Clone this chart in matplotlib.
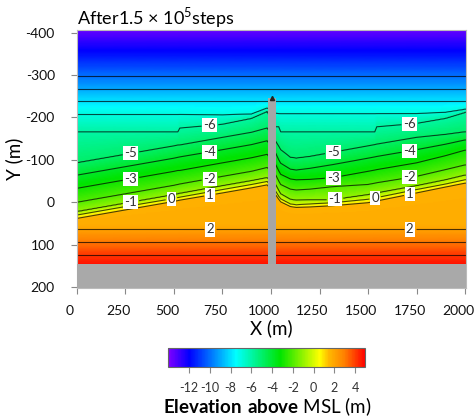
import numpy as np
import matplotlib
matplotlib.use("Agg")
import matplotlib.pyplot as plt
from matplotlib.colors import LinearSegmentedColormap
from matplotlib.transforms import ScaledTranslation

plt.rcParams['font.family'] = ['Lato', 'DejaVu Sans']
plt.rcParams['axes.unicode_minus'] = False
plt.rcParams['mathtext.fontset'] = 'custom'
plt.rcParams['mathtext.rm'] = 'Lato'
plt.rcParams['mathtext.bf'] = 'Lato:bold'

x_stations = [0, 250, 500, 520, 530, 750, 900, 980, 1025, 1040, 1050,
              1100, 1130, 1200, 1320, 1500, 1535, 1545, 1750, 1900, 2000]

# straight (shore-parallel) contours: elevation and cross-shore position
flat_levels = [-13.8, -10, -9, -8, 1.8, 2, 3, 4, 4.8]
flat_y = [-410, -298, -267, -238, 54, 64, 93, 123, 150]

# curved contours, cross-shore position at every station
y_m7 = [-207, -207, -207, -207, -207, -206, -208, -222, -210, -209, -209,
        -209, -209, -209, -209, -209, -209, -209, -209, -212, -219]
y_m6 = [-166, -166, -166, -166, -175, -184, -198, -214, -178, -178, -166,
        -166, -166, -166, -166, -166, -166, -178, -186, -198, -212]
y_m5 = [-93, -113, -133, -135, -135, -153, -165, -175, -143, -132, -124,
        -106, -104, -108, -118, -133, -136, -137, -153, -160, -166]
y_m4 = [-64, -84, -104, -106, -107, -124, -136, -145, -115, -100, -92,
        -78, -76, -80, -89, -104, -107, -108, -124, -137, -147]
y_m3 = [-33, -53, -73, -75, -75, -93, -105, -113, -88, -74, -66,
        -55, -53, -54, -58, -73, -76, -77, -93, -110, -123]
y_m2 = [0, -20, -40, -42, -43, -61, -73, -82, -64, -50, -42,
        -31, -29, -31, -37, -42, -45, -46, -61, -77, -88]
y_m1 = [22, 2, -18, -20, -21, -39, -51, -58, -41, -28, -20,
        -7, -5, -6, -6, -18, -21, -22, -39, -53, -64]
y_0 = [30, 10, -9, -11, -12, -30, -42, -49, -25, -14, -8,
       4, 6, 4, 1, -7, -10, -11, -30, -43, -53]
y_p1 = [38, 18, -2, -4, -5, -22, -34, -41, -17, -7, -1,
        10, 12, 11, 8, 1, -2, -3, -22, -36, -45]
y_berm = [43, 23, 3, 1, 0, -17, -29, -36, -12, -2, 4,
          15, 17, 16, 13, 6, 3, 2, -17, -31, -40]
curved_levels = [-7, -6, -5, -4, -3, -2, -1, 0, 1, 1.7]
curved_y = [y_m7, y_m6, y_m5, y_m4, y_m3, y_m2, y_m1, y_0, y_p1, y_berm]

plain_line_levels = [-10, -9, -8, -7, 3, 4]
labelled_line_levels = [-6, -5, -4, -3, -2, -1, 0, 1, 2]

label_levels = [-5, -3, -1, 0, -6, -4, -2, 1, 2,
                -5, -3, -1, 0, -6, -4, -2, 1, 2]
label_x = [278, 278, 278, 487, 685, 685, 685, 685, 685,
           1321, 1321, 1330, 1537, 1715, 1715, 1715, 1715, 1715]

groin_x0, groin_x1, groin_tip = 982, 1025, -245
land_y = 145

cmap_values = [-14, -12, -10, -7.5, -3.2, 0.6, 1.5, 3, 5]
cmap_colors = ['#7f00ff', '#0000ff', '#0070ff', '#00ffff', '#00e400',
               '#ffff00', '#ffb800', '#ff8000', '#ff0000']
vmin, vmax = -14, 5

# build the elevation grid from the contour positions
pairs = [(lv, [fy] * len(x_stations)) for lv, fy in zip(flat_levels, flat_y)]
pairs += list(zip(curved_levels, curved_y))
pairs.sort(key=lambda p: p[0])
levs = np.array([p[0] for p in pairs])
rows = [p[1] for p in pairs]

xg = np.arange(0, 2006, 5.0)
yg = np.arange(-410, 151, 2.0)
Z = np.empty((len(yg), len(xg)))
for j, xv in enumerate(xg):
    pos = [np.interp(xv, x_stations, r) for r in rows]
    Z[:, j] = np.interp(yg, pos, levs)

cmap = LinearSegmentedColormap.from_list(
    'bathy', [((v - vmin) / (vmax - vmin), c) for v, c in zip(cmap_values, cmap_colors)])

fig = plt.figure(figsize=(4.74, 4.19), dpi=100)
ax = fig.add_axes([0.1624, 0.3126, 0.8207, 0.6158])

mesh = ax.pcolormesh(xg, yg, Z, cmap=cmap, vmin=vmin, vmax=vmax, shading='gouraud')
line_style = dict(colors='k', linewidths=0.8, alpha=0.7,
                  linestyles='solid', negative_linestyles='solid')
ax.contour(xg, yg, Z, levels=plain_line_levels, **line_style)
cs = ax.contour(xg, yg, Z, levels=labelled_line_levels, **line_style)

# contour labels, placed on the lines at the read-off x positions
lookup = dict(zip(curved_levels, curved_y))
pts = []
for lv, xv in zip(label_levels, label_x):
    if lv in lookup:
        pts.append((xv, np.interp(xv, x_stations, lookup[lv])))
    else:
        pts.append((xv, flat_y[flat_levels.index(lv)]))
labels = ax.clabel(cs, manual=pts, inline=True, inline_spacing=2, fontsize=9.5,
                   fmt=lambda v: f"{v:g}", colors='#333333')
for t in labels:
    t.set_rotation(0)
    t.set_alpha(1)
    t.set_bbox(dict(boxstyle='square,pad=0.08', fc='white', ec='none'))

# land and groin
ax.axhspan(land_y, 210, color='#a9a9a9', zorder=3, lw=0)
ax.bar((groin_x0 + groin_x1) / 2, land_y - groin_tip, width=groin_x1 - groin_x0,
       bottom=groin_tip, color='#a6a6a6', zorder=3)
ax.plot((groin_x0 + groin_x1) / 2, groin_tip, marker='^', color='#222222', ms=3, zorder=4)

ax.set_xlim(0, 2005)
ax.set_ylim(202, -406)
ax.set_xticks(range(0, 2001, 250))
ax.set_yticks(range(-400, 201, 100))
ax.tick_params(direction='out', length=4, color='#888888', labelsize=10,
               labelcolor='#111111')
ax.tick_params(axis='y', pad=12)
ax.tick_params(axis='x', pad=8)
shift = ScaledTranslation(-7 / 100, 0, fig.dpi_scale_trans)
for lbl in ax.get_xticklabels():
    lbl.set_transform(lbl.get_transform() + shift)
for s in ax.spines.values():
    s.set_color('#bbbbbb')
    s.set_linewidth(0.8)
ax.set_xlabel('X (m)', fontsize=13.5, labelpad=2)
ax.set_ylabel('Y (m)', fontsize=13.5, labelpad=2)
ax.set_title(r'After1.5 × 10$^{5}$steps', loc='left', fontsize=13, pad=2)

cax = fig.add_axes([0.3553, 0.1248, 0.4156, 0.0453])
cb = fig.colorbar(mesh, cax=cax, orientation='horizontal', ticks=range(-12, 5, 2))
cb.outline.set_edgecolor('#666666')
cb.outline.set_linewidth(0.8)
cax.tick_params(direction='out', length=4, color='#888888', labelsize=9,
                labelcolor='#333333', pad=7)
cax.set_xlabel(r'$\mathbf{Elevation\ above}$ MSL (m)', fontsize=13.5, labelpad=1)

fig.savefig('out.png', dpi=100)
